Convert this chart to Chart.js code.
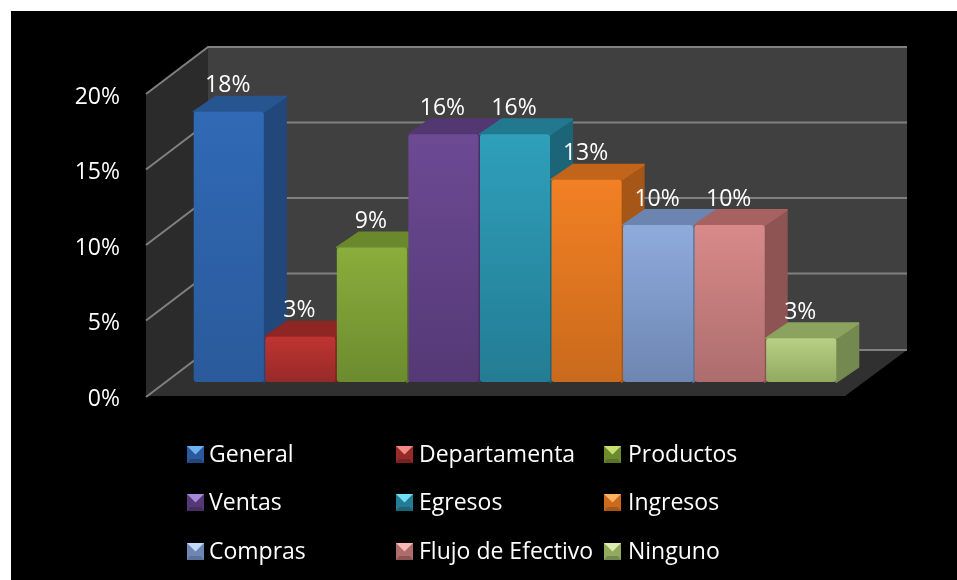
<!DOCTYPE html>
<html>
<head>
<meta charset="utf-8">
<title>Chart</title>
<script src="https://cdn.jsdelivr.net/npm/chart.js@4"></script>
<style>
    html, body { margin: 0; padding: 0; background: #fff; }
    canvas { display: block; }
</style>
</head>
<body>
<canvas id="chart" width="957" height="580"></canvas>
<script>
// datos
const categories = ["General", "Departamenta", "Productos", "Ventas", "Egresos", "Ingresos", "Compras", "Flujo de Efectivo", "Ninguno"];
const values = [17.9, 3, 8.9, 16.4, 16.4, 13.4, 10.4, 10.4, 2.9];
const tickValues = [0, 5, 10, 15, 20];

// colores: frente arriba, frente abajo, cara superior, cara lateral, brillo leyenda
const frontTop = ["#3069b5", "#c03432", "#8aad3c", "#6d4a94", "#2f9fba", "#f28024", "#8fabdc", "#d88a89", "#b8d084"];
const frontBottom = ["#2a5a9b", "#962a28", "#6c8b2f", "#543976", "#237c94", "#c96a1c", "#6d86b2", "#ad6d6d", "#92aa60"];
const topFace = ["#27558f", "#8e2624", "#6a892d", "#523770", "#22788e", "#c2651a", "#6c85b0", "#a66261", "#8ba35e"];
const sideFace = ["#22477a", "#7a2120", "#5a7427", "#452e60", "#1c6478", "#a65616", "#5c729a", "#8e5453", "#74894f"];
const shine = ["#6fb0f0", "#f08a85", "#c8e070", "#a888d8", "#70e0f8", "#ffb060", "#c4d8fa", "#f8b8b5", "#dcedb0"];

const FONT = "Open Sans";
const FONT_SIZE = 23;
const DEPTH_X = 22, DEPTH_Y = 15;

function poly(ctx, pts, fill) {
    ctx.beginPath();
    pts.forEach((p, i) => i ? ctx.lineTo(p[0], p[1]) : ctx.moveTo(p[0], p[1]));
    ctx.closePath();
    ctx.fillStyle = fill;
    ctx.fill();
}

// cara de barra con esquinas suaves
function face(ctx, pts, fill) {
    poly(ctx, pts, fill);
    ctx.strokeStyle = fill;
    ctx.lineWidth = 2;
    ctx.lineJoin = "round";
    ctx.stroke();
}

// paredes, piso y lineas de division
const wallsPlugin = {
    id: "walls",
    beforeDatasetsDraw(chart) {
        const { ctx, chartArea: a, scales: { y } } = chart;
        const floorFront = y.getPixelForValue(0) + 14;
        const floorBack = y.getPixelForValue(0) - 32;
        const xFront = a.left - 47, xFrontR = a.right + 8;
        const xBack = xFront + 62, xBackR = xFrontR + 62;
        const topBack = y.getPixelForValue(20) - 33;
        const topFront = topBack + 47;

        ctx.save();
        poly(ctx, [[xBack, topBack], [xBackR, topBack], [xBackR, floorBack], [xBack, floorBack]], "#404040");
        poly(ctx, [[xFront, topFront], [xBack, topBack], [xBack, floorBack], [xFront, floorFront]], "#2b2b2b");
        poly(ctx, [[xFront, floorFront], [xBack, floorBack], [xBackR, floorBack], [xFrontR, floorFront]], "#303030");

        ctx.strokeStyle = "#808080";
        ctx.lineWidth = 2;
        tickValues.forEach(v => {
            const yb = y.getPixelForValue(v) - 33 + (v === 0 ? 1 : 0);
            ctx.beginPath();
            ctx.moveTo(xFront, yb + 47);
            ctx.lineTo(xBack, yb);
            ctx.lineTo(xBackR, yb);
            ctx.stroke();
        });

        // caras superior y lateral de cada barra
        chart.getDatasetMeta(0).data.forEach((bar, i) => {
            const l = bar.x - bar.width / 2, r = bar.x + bar.width / 2;
            const t = bar.y, b = bar.base;
            face(ctx, [[r, t], [r + DEPTH_X, t - DEPTH_Y], [r + DEPTH_X, b - DEPTH_Y], [r, b]], sideFace[i]);
            face(ctx, [[l, t], [l + DEPTH_X, t - DEPTH_Y], [r + DEPTH_X, t - DEPTH_Y], [r, t]], topFace[i]);
        });
        ctx.restore();
    }
};

// fondo negro (deja el margen blanco arriba y a la izquierda)
const backgroundPlugin = {
    id: "fondo",
    beforeDraw(chart) {
        chart.ctx.fillStyle = "#000";
        chart.ctx.fillRect(11, 11, chart.width - 11, chart.height - 11);
    }
};

// etiquetas de valor y leyenda
const labelsPlugin = {
    id: "labels3d",
    afterDraw(chart) {
        const { ctx } = chart;
        ctx.save();
        ctx.fillStyle = "#fff";
        ctx.font = FONT_SIZE + "px '" + FONT + "'";
        ctx.textAlign = "center";
        ctx.textBaseline = "middle";
        chart.getDatasetMeta(0).data.forEach((bar, i) => {
            ctx.fillText(Math.round(values[i]) + "%", bar.x - 1, bar.y - 26);
        });

        const colX = [187, 396, 604];
        const textX = [209, 419, 628];
        const rowY = [453, 501, 550];
        ctx.textAlign = "left";
        categories.forEach((name, i) => {
            const c = i % 3, r = Math.floor(i / 3);
            const x = colX[c], y = rowY[r], s = 17, top = y - 7;
            ctx.fillStyle = frontBottom[i];
            ctx.fillRect(x, top, s, s);
            poly(ctx, [[x, top], [x + s, top], [x + s / 2, top + s * 0.5]], shine[i]);
            poly(ctx, [[x, top + s], [x + 3, top + s - 4], [x + s - 3, top + s - 4], [x + s, top + s]], sideFace[i]);
            ctx.fillStyle = "#fff";
            ctx.fillText(name, textX[c], y + 2);
        });
        ctx.restore();
    }
};

new Chart(document.getElementById("chart"), {
    type: "bar",
    data: {
        labels: categories,
        datasets: [{
            data: values,
            backgroundColor: function (context) {
                const { chart, dataIndex } = context;
                const yScale = chart.scales.y;
                const top = yScale ? yScale.getPixelForValue(values[dataIndex]) : NaN;
                const bottom = yScale ? yScale.getPixelForValue(0) : NaN;
                if (!isFinite(top) || !isFinite(bottom)) return frontTop[dataIndex];
                const g = chart.ctx.createLinearGradient(0, top, 0, bottom);
                g.addColorStop(0, frontTop[dataIndex]);
                g.addColorStop(1, frontBottom[dataIndex]);
                return g;
            },
            barPercentage: 0.98,
            categoryPercentage: 1,
            borderRadius: 3,
            borderSkipped: false
        }]
    },
    options: {
        responsive: false,
        animation: false,
        layout: { padding: { top: 80, bottom: 198, right: 120, left: 0 } },
        plugins: {
            legend: { display: false },
            tooltip: { enabled: false }
        },
        scales: {
            x: { display: false },
            y: {
                min: 0,
                max: 20,
                afterFit: s => { s.width = 193; s.paddingTop = 0; s.paddingBottom = 0; },
                afterBuildTicks: s => { s.ticks = tickValues.map(v => ({ value: v })); },
                grid: { display: false, drawTicks: false },
                border: { display: false },
                ticks: {
                    color: "#fff",
                    font: { family: FONT, size: FONT_SIZE },
                    padding: 73,
                    labelOffset: 17,
                    callback: v => v + "%"
                }
            }
        }
    },
    plugins: [backgroundPlugin, wallsPlugin, labelsPlugin]
});
</script>
</body>
</html>
